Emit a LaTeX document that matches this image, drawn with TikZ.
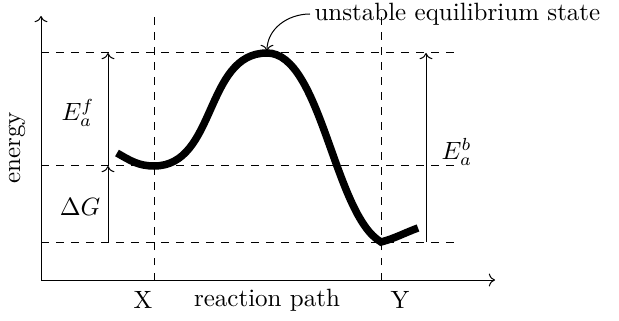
\documentclass[tikz,border=0pt]{standalone}
\usetikzlibrary{arrows.meta}
\tikzset{
  guide/.style={dashed, line width=0.4pt},
  meas/.style={->, line width=0.4pt},
  axis/.style={->, line width=0.4pt},
  curveline/.style={line width=3pt, line cap=butt},
  lbl/.style={inner sep=0pt, anchor=center}
}
\begin{document}
\begin{tikzpicture}[x=0.4pt, y=0.4pt]
\useasboundingbox (0,0) rectangle (619,320);
% coordinates
\coordinate (O) at (41,40);
\coordinate (ytop) at (41,304);
\coordinate (xend) at (495,40);
\coordinate (Xb) at (154,40);
\coordinate (Xt) at (154,306);
\coordinate (Yb) at (381,40);
\coordinate (Yt) at (381,306);
\coordinate (h1l) at (41,267); \coordinate (h1r) at (457,267);
\coordinate (h2l) at (41,154); \coordinate (h2r) at (457,154);
\coordinate (h3l) at (41,78);  \coordinate (h3r) at (457,78);
\coordinate (c0) at (117,167);
\coordinate (c1) at (154,154);
\coordinate (c2) at (267,267);
\coordinate (c3) at (381,78);
\coordinate (c4) at (418,92);
\coordinate (af0) at (108,154); \coordinate (af1) at (108,267);
\coordinate (dg0) at (108,78);
\coordinate (ab0) at (426,78); \coordinate (ab1) at (426,267);
\coordinate (peak) at (267,269);
% guides
\draw[guide] (Xb) -- (Xt);
\draw[guide] (Yb) -- (Yt);
\draw[guide] (h1l) -- (h1r);
\draw[guide] (h2l) -- (h2r);
\draw[guide] (h3l) -- (h3r);
% axes
\draw[axis] (O) -- (ytop);
\draw[axis] (O) -- (xend);
% curve
\draw[curveline] (c0) to[out=-30,in=180] (c1) to[out=0,in=180] (c2)
  to[out=0,in=150,looseness=0.63] (c3) to[out=15,in=200] (c4);
% measurement arrows
\draw[meas] (af0) -- (af1);
\draw[meas] (dg0) -- (af0);
\draw[meas] (ab0) -- (ab1);
% labels
\node[lbl] (lef) at (78,207) {$E_a^f$};
\node[lbl] (ldg) at (80,113) {$\Delta G$};
\node[lbl] (leb) at (457,168) {$E_a^b$};
\node[lbl, rotate=90] (len) at (17,172) {energy};
\node[lbl] (lX) at (143,20) {X};
\node[lbl] (lrp) at (267,20) {reaction path};
\node[lbl] (lY) at (400,20) {Y};
\node[inner sep=0pt, anchor=west] (lun) at (314,306) {unstable equilibrium state};
\draw[->, line width=0.4pt] (lun.west) ++(-4,0) to[out=180,in=90] (peak);
\end{tikzpicture}
\end{document}
